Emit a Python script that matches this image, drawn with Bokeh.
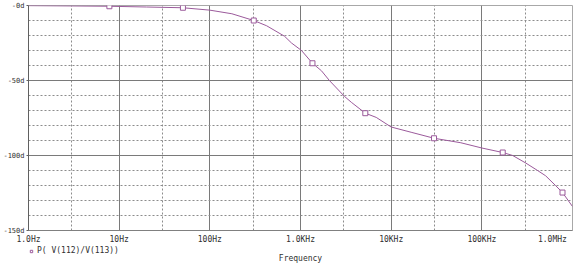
import math
from bokeh.plotting import figure
from bokeh.models import FixedTicker, Legend, LegendItem, Range1d, Label
from bokeh.layouts import column
from bokeh.embed import file_html
from bokeh.resources import INLINE

# Phase trace (frequency in Hz, phase in degrees)
freq = [1, 3, 7.8, 20, 50.5, 100, 175, 305, 423, 667, 796, 1026, 1355,
        1702, 2083, 3045, 3632, 5185, 6840, 10000, 16600, 29700, 58700,
        100000, 170000, 219000, 305000, 412000, 505000, 650000, 776000,
        1000000]
phase = [-0.1, -0.3, -0.5, -1.0, -1.5, -3.1, -5.5, -10, -13.5, -20.5, -25,
         -30, -38.5, -43.5, -50, -60.5, -64.5, -71.8, -74.6, -81, -84.5,
         -88.5, -91.5, -95, -98, -100, -105, -110, -113.5, -120, -124.7,
         -134]

# Trace markers (PSpice symbol positions)
marker_freq = [7.8, 50.5, 305, 1355, 5185, 29700, 170000, 776000]
marker_phase = [-0.5, -1.5, -10, -38.5, -71.8, -88.5, -98, -124.7]

x_ticks = [1, 10, 100, 1000, 10000, 100000, 1000000]
x_minor = [3, 30, 300, 3000, 30000, 300000]
x_labels = ["1.0Hz", "10Hz", "100Hz", "1.0KHz", "10KHz", "100KHz",
            "1.0MHz\u00a0\u00a0"]
y_ticks = [0, -50, -100, -150]
y_minor = [-10, -20, -30, -40, -60, -70, -80, -90, -110, -120, -130, -140]
y_labels = ["-0d", "-50d", "-100d", "-150d"]
legend_label = "P( V(112)/V(113))"
x_title = "Frequency"

TRACE = "#9b5a9b"
FONT = "DejaVu Sans Mono"
TXT = "#303030"

x_range = Range1d(x_ticks[0], x_ticks[-1])

# ---------------- main chart ----------------
p = figure(width=576, height=246, x_axis_type="log", output_backend="svg",
           toolbar_location=None, tools="",
           x_range=x_range, y_range=Range1d(-150, 0))
p.min_border_left = 26
p.min_border_right = 4
p.min_border_top = 5
p.min_border_bottom = 0
p.background_fill_color = "white"
p.border_fill_color = "white"
p.outline_line_color = "#a8a8a8"
p.outline_line_width = 1

p.xaxis.ticker = FixedTicker(ticks=x_ticks, minor_ticks=x_minor)
p.yaxis.ticker = FixedTicker(ticks=y_ticks, minor_ticks=y_minor)
p.xaxis.major_label_overrides = {t: l for t, l in zip(x_ticks, x_labels)}
p.yaxis.major_label_overrides = {t: l for t, l in zip(y_ticks, y_labels)}

for ax in (p.xaxis, p.yaxis):
    ax.major_label_text_font = FONT
    ax.major_label_text_color = TXT
    ax.minor_tick_line_color = None
    ax.axis_line_color = "#606060"
    ax.major_tick_line_color = "#606060"

p.xaxis.major_label_text_font_size = "8px"
p.yaxis.major_label_text_font_size = "7px"
p.yaxis.major_tick_out = 2
p.yaxis.major_tick_in = 0
p.yaxis.major_label_standoff = 0
p.xaxis.major_tick_out = 0
p.xaxis.major_tick_in = 0
p.xaxis.major_label_standoff = 0
p.xaxis.axis_line_color = "#808080"

for g in (p.xgrid, p.ygrid):
    g.grid_line_color = "#7a7a7a"
    g.grid_line_width = 1
    g.minor_grid_line_color = "#8c8c8c"
    g.minor_grid_line_dash = "2 2"
    g.minor_grid_line_width = 1

p.line(freq, phase, line_color=TRACE, line_width=1)
p.scatter(marker_freq, marker_phase, marker="square", size=5,
          line_color=TRACE, fill_color="white", line_width=1)

# ---------------- legend + x title strip ----------------
p2 = figure(width=576, height=17, x_axis_type="log", output_backend="svg",
            toolbar_location=None, tools="", y_axis_location=None,
            x_axis_location=None, x_range=x_range, y_range=Range1d(0, 1))
p2.min_border_left = 26
p2.min_border_right = 4
p2.min_border_top = 0
p2.min_border_bottom = 0
p2.outline_line_color = None
p2.grid.visible = False
p2.background_fill_color = "white"
p2.border_fill_color = "white"

# same trace symbols; they fall outside this strip's range, only the
# legend swatch is visible
mr = p2.scatter(marker_freq, marker_phase, marker="square", size=5,
                line_color=TRACE, fill_color="white", line_width=1)

legend = Legend(items=[LegendItem(label=legend_label, renderers=[mr])],
                location="top_left", border_line_color=None,
                background_fill_alpha=0, label_text_font=FONT,
                label_text_font_size="8px", label_text_color=TXT,
                glyph_width=6, glyph_height=6, label_standoff=3,
                padding=0, margin=0, spacing=0, label_height=8)
p2.add_layout(legend, "center")

# x-axis title, centred under the (log) frequency axis
p2.add_layout(Label(x=math.sqrt(x_ticks[0] * x_ticks[-1]), y=1,
                    x_units="data", y_units="screen", text=x_title,
                    text_align="center", text_baseline="bottom",
                    text_font=FONT, text_font_size="8px", text_color=TXT))

layout = column(p, p2, spacing=0)
open("out.html", "w").write(file_html(layout, INLINE))
